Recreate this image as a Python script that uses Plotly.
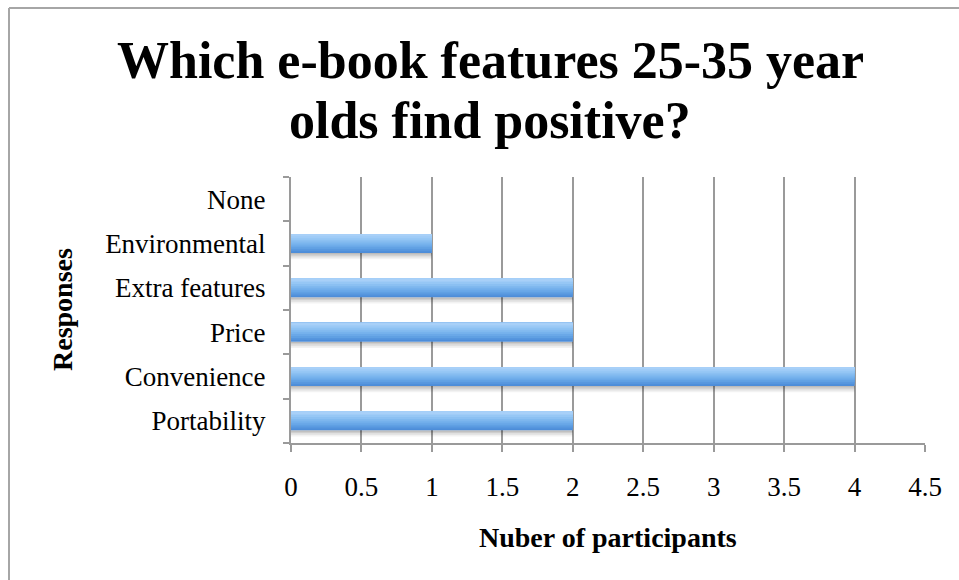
import plotly.graph_objects as go

categories = ["Portability", "Convenience", "Price", "Extra features", "Environmental", "None"]
participants = [2, 4, 2, 2, 1, 0]
x_ticks = [0, 0.5, 1, 1.5, 2, 2.5, 3, 3.5, 4, 4.5]
x_tick_labels = ["0", "0.5", "1", "1.5", "2", "2.5", "3", "3.5", "4", "4.5"]

title_lines = ["Which e-book features 25-35 year", "olds find positive?"]
x_title = "Nuber of participants"
y_title = "Responses"

FONT = "Liberation Serif"
GRID = "#9a9a9a"
W, H = 959, 580
L, R, T, B = 291, 34, 177, 137
PW, PH = W - L - R, H - T - B


def px_x(x):
    return (x - L) / PW


def px_y(y):
    return (H - B - y) / PH


fig = go.Figure()

bar_w = 0.43
# shadow below the bars (nested layers, darker nearer the bar)
shadow_layers = [(0.14, "rgba(0,0,0,0.05)"), (0.10, "rgba(0,0,0,0.07)"), (0.06, "rgba(0,0,0,0.08)"), (0.03, "rgba(0,0,0,0.09)")]
for h, col in shadow_layers:
    fig.add_trace(go.Bar(
        y=categories, x=participants, orientation="h",
        width=h, offset=-bar_w / 2 - h,
        marker=dict(color=col, line=dict(width=0)),
        hoverinfo="skip", showlegend=False,
    ))

# gradient body (bottom darker -> top lighter), nested layers to avoid seams
grad = ["#4d8dd9", "#5696de", "#60a0e3", "#6aa8e8", "#75b1ec", "#80b9ef", "#8bc0f2", "#96c7f5", "#a0ccf7", "#a8d0f8"]
n = len(grad)
step = bar_w / n
for i, col in enumerate(grad):
    fig.add_trace(go.Bar(
        y=categories, x=participants, orientation="h",
        width=bar_w - i * step, offset=-bar_w / 2 + i * step,
        marker=dict(color=col, line=dict(width=0)),
        hoverinfo="skip", showlegend=False,
    ))

annotations = [
    dict(text=title_lines[0], xref="paper", yref="paper", x=px_x(490), y=px_y(61),
         xanchor="center", yanchor="middle", showarrow=False,
         font=dict(family=FONT, size=52, color="black", weight="bold")),
    dict(text=title_lines[1], xref="paper", yref="paper", x=px_x(490), y=px_y(120),
         xanchor="center", yanchor="middle", showarrow=False,
         font=dict(family=FONT, size=52, color="black", weight="bold")),
    dict(text=x_title, xref="paper", yref="paper", x=0.5, y=px_y(537),
         xanchor="center", yanchor="middle", showarrow=False,
         font=dict(family=FONT, size=28, color="black", weight="bold")),
    dict(text=y_title, xref="paper", yref="paper", x=px_x(62), y=0.5,
         xanchor="center", yanchor="middle", showarrow=False, textangle=-90,
         font=dict(family=FONT, size=28, color="black", weight="bold")),
]

fig.update_layout(
    width=W, height=H,
    barmode="overlay",
    paper_bgcolor="white", plot_bgcolor="white",
    margin=dict(l=L, r=R, t=T, b=B),
    showlegend=False,
    font=dict(family=FONT, color="black", size=27),
    xaxis=dict(
        range=[0, 4.5], tickvals=x_ticks, ticktext=x_tick_labels,
        showgrid=True, gridcolor=GRID, gridwidth=2,
        zeroline=False, showline=True, linecolor=GRID, linewidth=2,
        ticks="outside", ticklen=7, tickwidth=2, tickcolor=GRID,
        ticklabelstandoff=12,
        tickfont=dict(family=FONT, size=27, color="black"),
    ),
    yaxis=dict(
        type="category", categoryorder="array", categoryarray=categories,
        range=[-0.5, 5.5],
        showgrid=False, zeroline=False, showline=True, linecolor=GRID, linewidth=2,
        ticks="outside", ticklen=6, tickwidth=2, tickcolor=GRID, tickson="boundaries",
        ticklabelstandoff=18,
        tickfont=dict(family=FONT, size=27, color="black"),
    ),
    annotations=annotations,
    shapes=[
        dict(type="line", xref="paper", yref="paper", x0=px_x(9), x1=px_x(W + 5),
             y0=px_y(8), y1=px_y(8), line=dict(color="#a6a6a6", width=2)),
        dict(type="line", xref="paper", yref="paper", x0=px_x(9), x1=px_x(9),
             y0=px_y(8), y1=px_y(H + 5), line=dict(color="#a6a6a6", width=2)),
    ],
)

fig.write_html("out.html", config={"displayModeBar": False},
               post_script="document.body.style.margin='0';document.body.style.padding='0';")
